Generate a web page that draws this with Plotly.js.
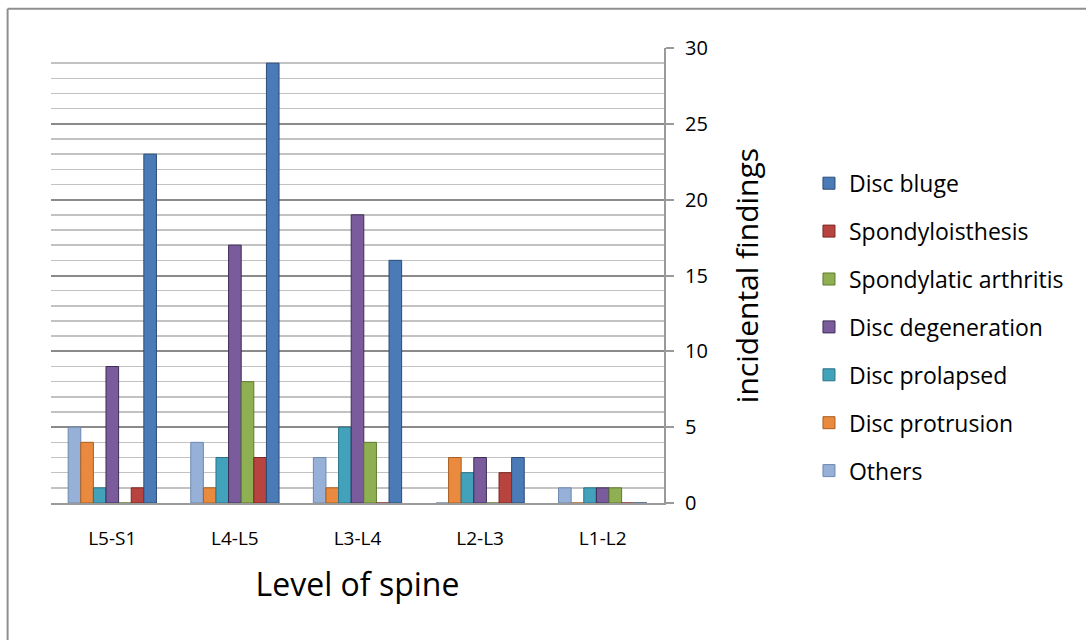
<!DOCTYPE html>
<html>
<head>
<meta charset="utf-8">
<script src="https://cdn.plot.ly/plotly-3.0.1.min.js"></script>
<style>
  html, body { margin: 0; padding: 0; background: #ffffff; }
  #chart { width: 1086px; height: 640px; }
</style>
</head>
<body>
<div id="chart"></div>
<script>
// Spine levels along the x axis
const levels = ["L5-S1", "L4-L5", "L3-L4", "L2-L3", "L1-L2"];

// Counts of incidental findings per level, one array per finding
const others          = [5, 4, 3, 0, 1];
const discProtrusion  = [4, 1, 1, 3, 0];
const discProlapsed   = [1, 3, 5, 2, 1];
const discDegeneration= [9, 17, 19, 3, 1];
const spondArthritis  = [0, 8, 4, 0, 1];
const spondylolisth   = [1, 3, 0, 2, 0];
const discBluge       = [23, 29, 16, 3, 0];

const yTicks = [0, 5, 10, 15, 20, 25, 30];

const series = [
  { name: "Others",               y: others,           color: "#97b0d8", edge: "#6f88b0" },
  { name: "Disc protrusion",      y: discProtrusion,   color: "#ea8a3e", edge: "#a85e22" },
  { name: "Disc prolapsed",       y: discProlapsed,    color: "#43a2bb", edge: "#2a7386" },
  { name: "Disc degeneration",    y: discDegeneration, color: "#7a5c9c", edge: "#3e2c56" },
  { name: "Spondylatic arthritis",y: spondArthritis,   color: "#8fb052", edge: "#5e7a2e" },
  { name: "Spondyloisthesis",     y: spondylolisth,    color: "#b7443f", edge: "#7c2824" },
  { name: "Disc bluge",           y: discBluge,        color: "#4a7bb7", edge: "#2a4c78" }
];

// Legend lists the last series first
const traces = series.map((s, i) => ({
  type: "bar",
  name: s.name,
  x: levels,
  y: s.y,
  legendgroup: "g" + i,
  legendrank: series.length - i,
  marker: { color: s.color, line: { color: s.edge, width: 1 } },
  hoverinfo: "x+y+name"
}));

const font = "'Open Sans', Lato, sans-serif";

const layout = {
  width: 1086,
  height: 640,
  paper_bgcolor: "#ffffff",
  plot_bgcolor: "#ffffff",
  margin: { l: 51, r: 422, t: 48, b: 137 },
  barmode: "group",
  bargap: 0.28,
  bargroupgap: 0,
  font: { family: font, color: "#000000", size: 19 },
  xaxis: {
    type: "category",
    range: [-0.5, 4.5],
    showgrid: false,
    zeroline: false,
    showline: true,
    linecolor: "#9a9a9a",
    linewidth: 2,
    ticks: "",
    tickfont: { family: font, size: 19, color: "#000000" },
    ticklabelstandoff: 17,
    title: { text: "Level of spine", font: { family: font, size: 32, color: "#000000" }, standoff: 24 }
  },
  yaxis: {
    side: "right",
    range: [0, 30],
    tickvals: yTicks,
    ticktext: yTicks.map(String),
    ticks: "outside",
    ticklen: 8,
    tickcolor: "#9a9a9a",
    tickwidth: 2,
    ticklabelstandoff: 7,
    showline: true,
    linecolor: "#9a9a9a",
    linewidth: 2,
    showgrid: true,
    gridcolor: "#8a8a8a",
    gridwidth: 2,
    zeroline: false,
    minor: { dtick: 1, showgrid: true, gridcolor: "#c2c2c2", gridwidth: 1.5, ticks: "" },
    tickfont: { family: font, size: 20, color: "#000000" },
    title: { text: "incidental findings", font: { family: font, size: 30, color: "#000000" }, standoff: 30 }
  },
  legend: {
    x: 1.2365,
    xanchor: "left",
    y: 0.75,
    yanchor: "top",
    traceorder: "grouped",
    tracegroupgap: 15,
    font: { family: font, size: 23, color: "#000000" },
    itemwidth: 30,
    bgcolor: "rgba(0,0,0,0)"
  },
  shapes: [
    // outer frame edges
    { type: "line", xref: "paper", yref: "paper", x0: -0.0708, x1: 1.7, y0: 1.086, y1: 1.086,
      line: { color: "#8f8f8f", width: 2 } },
    { type: "line", xref: "paper", yref: "paper", x0: -0.0708, x1: -0.0708, y0: 1.086, y1: -0.5,
      line: { color: "#8f8f8f", width: 2 } }
  ],
  showlegend: true
};

Plotly.newPlot("chart", traces, layout, { displayModeBar: false, staticPlot: true });
</script>
</body>
</html>
